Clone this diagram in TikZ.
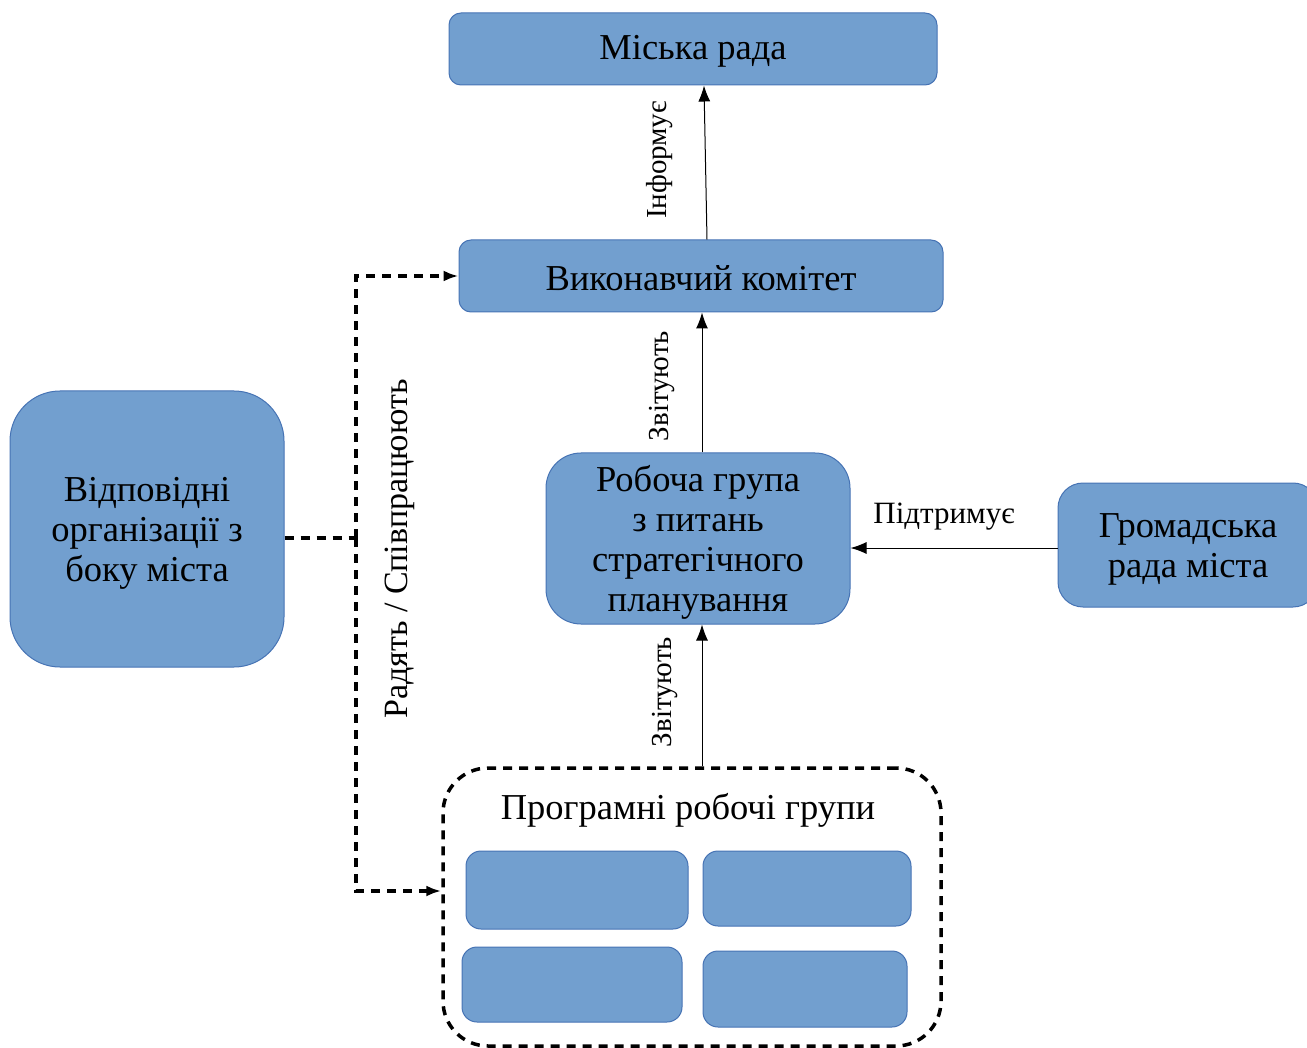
\documentclass[tikz,border=0pt]{standalone}
\usepackage{fontspec}
\setmainfont{Liberation Serif}
\usetikzlibrary{arrows.meta,calc}
\definecolor{boxfill}{RGB}{114,159,207}
\definecolor{boxline}{RGB}{70,115,180}
\begin{document}
\begin{tikzpicture}[x=1pt,y=-1pt,
  box/.style={draw=boxline, fill=boxfill, line width=1pt, inner sep=0pt},
  txt/.style={inner sep=0pt, align=center, font=\fontsize{36.5}{40}\selectfont},
  lbl/.style={font=\fontsize{29}{32}\selectfont, inner sep=0pt},
  arr/.style={-{Latex[length=16pt,width=12pt]}, line width=1pt},
  dsh/.style={line width=3.5pt, dash pattern=on 9pt off 7pt},
  darr/.style={dsh, -{Latex[length=15pt,width=11pt]}}]
\useasboundingbox (0,0) rectangle (1307,1048);
% main boxes
\node[box, rounded corners=12pt, minimum width=488pt, minimum height=72pt] (mr) at (693,49) {};
\node[txt] (mrt) at (693,51) {Міська рада};
\node[box, rounded corners=12pt, minimum width=484pt, minimum height=72pt] (vk) at (701,276) {};
\node[txt] (vkt) at (701,278) {Виконавчий комітет};
\node[box, rounded corners=35pt, minimum width=304pt, minimum height=171pt] (rg) at (698,538.5) {};
\node[txt] (rgt) at (698,542) {Робоча група\\з питань\\стратегічного\\планування};
\node[box, rounded corners=25pt, minimum width=260pt, minimum height=124pt] (gr) at (1188,545) {};
\node[txt] (grt) at (1188,549) {Громадська\\рада міста};
\node[box, rounded corners=50pt, minimum width=274pt, minimum height=276pt] (org) at (147,529) {};
\node[txt] (orgt) at (147,533) {Відповідні\\організації з\\боку міста};
% program groups
\node[draw, dsh, rounded corners=45pt, minimum width=498pt, minimum height=278pt, inner sep=0pt] (pg) at (692,907) {};
\node[txt] (pgt) at (688,810) {Програмні робочі групи};
\node[box, rounded corners=15pt, minimum width=222pt, minimum height=78pt] (b1) at (577,890) {};
\node[box, rounded corners=15pt, minimum width=208pt, minimum height=75pt] (b2) at (807,888.5) {};
\node[box, rounded corners=15pt, minimum width=220pt, minimum height=75pt] (b3) at (572,984.5) {};
\node[box, rounded corners=15pt, minimum width=204pt, minimum height=76pt] (b4) at (805,989) {};
% arrows
\draw[arr] ($(vk.north)+(6,0)$) -- ($(mr.south)+(11,0)$);
\node[lbl, rotate=90] (l1) at (660,160) {Інформує};
\draw[arr] (rg.north -| 702,0) -- (vk.south -| 702,0);
\node[lbl, rotate=90] (l2) at (662,386) {Звітують};
\draw[arr] (pg.north -| 702,0) -- (rg.south -| 702,0);
\node[lbl, rotate=90] (l3) at (665,692) {Звітують};
\draw[arr] (gr.west |- 0,548) -- (rg.east |- 0,548);
\node[lbl, font=\fontsize{31}{34}\selectfont] (l4) at (944,517) {Підтримує};
% dashed
\coordinate (j) at (356,538);
\draw[dsh] (org.east |- j) -- (j);
\draw[darr] (j) |- (vk.west);
\draw[darr] (j) |- ($(pg.west)+(0,-16)$);
\node[lbl, rotate=90, font=\fontsize{34}{38}\selectfont] (l5) at (400,549) {Радять / Співпрацюють};
\end{tikzpicture}
\end{document}
